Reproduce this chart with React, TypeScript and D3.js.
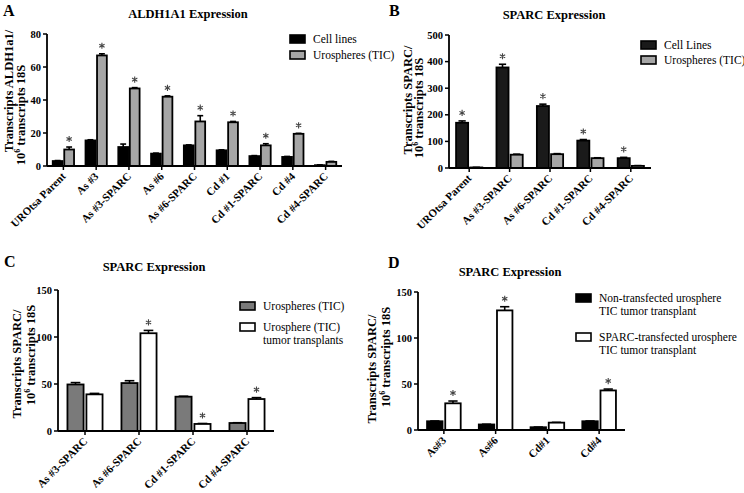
import React from 'react';
import * as d3 from 'd3';

// Panel A – ALDH1A1
const A_CATS = ['UROtsa Parent', 'As #3', 'As #3-SPARC', 'As #6', 'As #6-SPARC', 'Cd #1', 'Cd #1-SPARC', 'Cd #4', 'Cd #4-SPARC'];
const A_CELL = [3, 15.5, 11.5, 7.5, 12.5, 9.5, 6, 5.5, 0.5];
const A_CELL_ERR = [0.3, 0.4, 1.8, 0.3, 0.3, 0.3, 0.3, 0.3, 0.2];
const A_URO = [10, 67, 47, 42, 27, 26.5, 12.5, 19.5, 2.5];
const A_URO_ERR = [1.5, 1, 0.5, 0.5, 3.5, 0.5, 1, 0.3, 0.3];
const A_URO_SIG = [1, 1, 1, 1, 1, 1, 1, 1, 0];
const A_TICKS = [0, 20, 40, 60, 80];

// Panel B – SPARC, cell lines vs urospheres
const B_CATS = ['UROtsa Parent', 'As #3-SPARC', 'As #6-SPARC', 'Cd #1-SPARC', 'Cd #4-SPARC'];
const B_CELL = [170, 378, 233, 103, 37];
const B_CELL_ERR = [7, 12, 7, 4, 3];
const B_CELL_SIG = [1, 1, 1, 1, 1];
const B_URO = [2, 50, 52, 37, 8];
const B_URO_ERR = [0.5, 2, 2, 1.5, 1];
const B_TICKS = [0, 100, 200, 300, 400, 500];

// Panel C – urospheres vs tumor transplants
const C_CATS = ['As #3-SPARC', 'As #6-SPARC', 'Cd #1-SPARC', 'Cd #4-SPARC'];
const C_URO = [49.5, 51, 36.5, 8.5];
const C_URO_ERR = [2, 2.5, 0.5, 0.3];
const C_TUM = [39, 104, 7.5, 34];
const C_TUM_ERR = [1, 3, 0.5, 1.5];
const C_TUM_SIG = [0, 1, 1, 1];
const C_TICKS = [0, 50, 100, 150];

// Panel D – non-transfected vs SPARC-transfected
const D_CATS = ['As#3', 'As#6', 'Cd#1', 'Cd#4'];
const D_NON = [9.5, 6, 3, 9.5];
const D_NON_ERR = [0.3, 0.3, 0.2, 0.3];
const D_SPARC = [29, 130, 8, 43];
const D_SPARC_ERR = [2.5, 4, 0.3, 1.5];
const D_SPARC_SIG = [1, 1, 0, 1];
const D_TICKS = [0, 50, 100, 150];

const FONT = 'Liberation Serif, DejaVu Serif, serif';

type Series = { name: string[]; values: number[]; errs: number[]; sig?: number[]; fill: string };
type PanelProps = {
  letter: string; letterX: number; letterY: number;
  title: string; titleX: number; titleY: number;
  x0: number; x1: number; yTop: number; yBottom: number;
  ticks: number[]; cats: string[]; series: Series[];
  legendX: number; legendY: number[];
  axisLines: { text: string; x: number; y: number; sup?: boolean }[];
};

const Panel = (p: PanelProps) => {
  const yMax = p.ticks[p.ticks.length - 1];
  const y = d3.scaleLinear().domain([0, yMax]).range([p.yBottom, p.yTop]);
  const x = d3.scaleBand().domain(p.cats).range([p.x0, p.x1]).paddingInner(0.35).paddingOuter(0.175);
  const xs = d3.scaleBand().domain(p.series.map((_, i) => String(i))).range([0, x.bandwidth()]).paddingInner(0.15);
  const bw = xs.bandwidth();
  const star = d3.symbol().type(d3.symbolAsterisk).size(26)();

  return (
    <g style={{ fontFamily: FONT }}>
      <text x={p.letterX} y={p.letterY} fontSize={16} fontWeight="bold">{p.letter}</text>
      <text x={p.titleX} y={p.titleY} fontSize={12.5} fontWeight="bold" textAnchor="middle">{p.title}</text>

      {p.axisLines.map((l, i) => (
        <text key={i} transform={`translate(${l.x},${l.y}) rotate(-90)`} fontSize={12.5} fontWeight="bold" textAnchor="middle">
          {l.sup ? (
            <>
              <tspan>10</tspan>
              <tspan dy={-5} fontSize={8}>6</tspan>
              <tspan dy={5}>{l.text}</tspan>
            </>
          ) : l.text}
        </text>
      ))}

      {p.series.map((s, si) =>
        p.cats.map((c, ci) => {
          const bx = (x(c) as number) + (xs(String(si)) as number);
          const top = y(s.values[ci] + s.errs[ci]);
          const cx = bx + bw / 2;
          return (
            <g key={`${si}-${ci}`}>
              <line x1={cx} x2={cx} y1={y(s.values[ci])} y2={top} stroke="#000" strokeWidth={1.6} />
              <line x1={cx - bw * 0.3} x2={cx + bw * 0.3} y1={top} y2={top} stroke="#000" strokeWidth={1.6} />
              <rect x={bx} y={y(s.values[ci])} width={bw} height={p.yBottom - y(s.values[ci])}
                fill={s.fill} stroke="#000" strokeWidth={1.8} />
              {s.sig && s.sig[ci] ? (
                <path d={star as string} transform={`translate(${cx},${top - 8})`} fill="none" stroke="#444" strokeWidth={1.1} />
              ) : null}
            </g>
          );
        })
      )}

      {/* axes */}
      <line x1={p.x0} x2={p.x0} y1={p.yTop} y2={p.yBottom} stroke="#000" strokeWidth={1.8} />
      <line x1={p.x0} x2={p.x1} y1={p.yBottom} y2={p.yBottom} stroke="#000" strokeWidth={1.8} />
      {p.ticks.map(t => (
        <g key={t}>
          <line x1={p.x0 - 4} x2={p.x0} y1={y(t)} y2={y(t)} stroke="#000" strokeWidth={1.5} />
          <text x={p.x0 - 6} y={y(t)} dy="0.35em" fontSize={10.5} fontWeight="bold" textAnchor="end">{t}</text>
        </g>
      ))}
      {p.cats.map(c => {
        const cx = (x(c) as number) + x.bandwidth() / 2;
        return (
          <g key={c}>
            <line x1={cx} x2={cx} y1={p.yBottom} y2={p.yBottom + 4} stroke="#000" strokeWidth={1.5} />
            <text transform={`translate(${cx + 3},${p.yBottom + 11}) rotate(-45)`} fontSize={11}
              fontWeight="bold" textAnchor="end">{c}</text>
          </g>
        );
      })}

      {/* legend */}
      {p.series.map((s, si) => (
        <g key={si}>
          <rect x={p.legendX} y={p.legendY[si] - 4} width={15} height={8} fill={s.fill} stroke="#000" strokeWidth={1.6} />
          {s.name.map((n, ni) => (
            <text key={ni} x={p.legendX + 23} y={p.legendY[si] + ni * 13} dy="0.35em" fontSize={11.5}>{n}</text>
          ))}
        </g>
      ))}
    </g>
  );
};

export default function App() {
  return (
    <div style={{ position: 'absolute', left: 0, top: 0 }}>
      <svg width={744} height={493} style={{ display: 'block', background: '#fff' }}>
        <Panel letter="A" letterX={3} letterY={16} title="ALDH1A1 Expression" titleX={188} titleY={18}
          x0={47} x1={342} yTop={34} yBottom={166} ticks={A_TICKS} cats={A_CATS}
          series={[
            { name: ['Cell lines'], values: A_CELL, errs: A_CELL_ERR, fill: '#000' },
            { name: ['Urospheres (TIC)'], values: A_URO, errs: A_URO_ERR, sig: A_URO_SIG, fill: '#a6a6a6' },
          ]}
          legendX={290} legendY={[39, 55]}
          axisLines={[
            { text: 'Transcripts ALDH1a1/', x: 13, y: 91 },
            { text: ' transcripts 18S', x: 25, y: 115, sup: true },
          ]} />
        <Panel letter="B" letterX={389} letterY={16} title="SPARC Expression" titleX={554} titleY={19}
          x0={449} x1={651} yTop={35} yBottom={168} ticks={B_TICKS} cats={B_CATS}
          series={[
            { name: ['Cell Lines'], values: B_CELL, errs: B_CELL_ERR, sig: B_CELL_SIG, fill: '#1a1a1a' },
            { name: ['Urospheres (TIC)'], values: B_URO, errs: B_URO_ERR, fill: '#a6a6a6' },
          ]}
          legendX={641} legendY={[45, 60]}
          axisLines={[
            { text: 'Transcripts SPARC/', x: 412, y: 100 },
            { text: ' transcripts 18S', x: 423, y: 108, sup: true },
          ]} />
        <Panel letter="C" letterX={4} letterY={267} title="SPARC Expression" titleX={154} titleY={271}
          x0={58} x1={274} yTop={290} yBottom={431} ticks={C_TICKS} cats={C_CATS}
          series={[
            { name: ['Urospheres (TIC)'], values: C_URO, errs: C_URO_ERR, fill: '#7a7a7a' },
            { name: ['Urosphere (TIC)', 'tumor transplants'], values: C_TUM, errs: C_TUM_ERR, sig: C_TUM_SIG, fill: '#fff' },
          ]}
          legendX={240} legendY={[306, 327]}
          axisLines={[
            { text: 'Transcripts SPARC/', x: 21, y: 364 },
            { text: ' transcripts 18S', x: 35, y: 355, sup: true },
          ]} />
        <Panel letter="D" letterX={388} letterY={268} title="SPARC Expression" titleX={510} titleY={276}
          x0={418} x1={625} yTop={292} yBottom={430} ticks={D_TICKS} cats={D_CATS}
          series={[
            { name: ['Non-transfected urosphere', 'TIC tumor transplant'], values: D_NON, errs: D_NON_ERR, fill: '#000' },
            { name: ['SPARC-transfected urosphere', 'TIC tumor transplant'], values: D_SPARC, errs: D_SPARC_ERR, sig: D_SPARC_SIG, fill: '#fff' },
          ]}
          legendX={576} legendY={[298, 337]}
          axisLines={[
            { text: 'Transcripts SPARC/', x: 376, y: 369 },
            { text: ' transcripts 18S', x: 390, y: 357, sup: true },
          ]} />
      </svg>
    </div>
  );
}
